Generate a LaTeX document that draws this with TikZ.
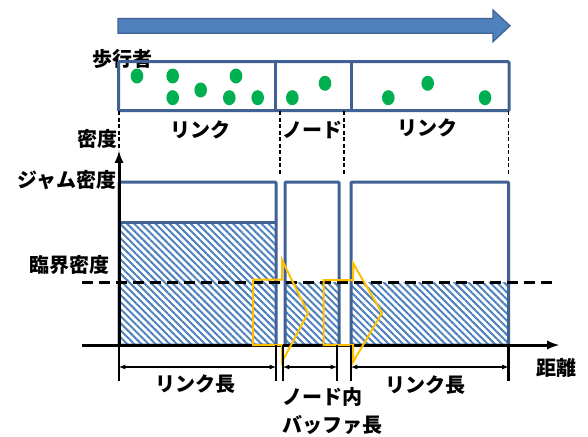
\documentclass[tikz,border=0pt]{standalone}
\usepackage{fontspec}
\setmainfont{Noto Sans CJK JP}
\usetikzlibrary{patterns.meta}
\definecolor{lineblue}{HTML}{3F6193}
\definecolor{fillblue}{HTML}{4F81BD}
\definecolor{walker}{HTML}{00B050}
\definecolor{flow}{HTML}{FFC000}
\tikzset{
  lbl/.style={font=\fontsize{20}{28}\selectfont\bfseries, inner sep=0pt},
  segbox/.style={draw=lineblue, line width=3pt, rounded corners=1pt},
  hatched/.style={pattern={Lines[angle=-45,distance=5pt,line width=2pt]}, pattern color=fillblue},
  person/.style={fill=walker, draw=none},
  flowarrow/.style={draw=flow, line width=2pt, line join=miter},
  dim/.style={latex-latex, line width=1.2pt},
  tick/.style={line width=2.5pt},
}
\begin{document}
\begin{tikzpicture}[x=1pt, y=-1pt]
\useasboundingbox (0,0) rectangle (588,436);
% direction of walking
\draw [fill=fillblue, draw=lineblue, line width=1.2pt, line join=miter]
  (118,18.5) -- (493,18.5) -- (493,10) -- (510,25.8) -- (493,41.7) -- (493,33.3) -- (118,33.3) -- cycle;
% pedestrians
\node [lbl] (walkers) at (122,59) {歩行者};
\draw [segbox] (118.5,61.7) rectangle (509,110.7);
\draw [segbox] (275,61.7) -- (275,110.7);
\draw [segbox] (351,61.7) -- (351,110.7);
\foreach \px/\py in {137/76, 172.7/76, 236/76, 200.7/90, 172.7/97.7, 229.3/97.7,
                     257.7/97.7, 292.3/97.7, 325/83.3, 388.3/97.7, 427.7/83.3, 485/97.7}
  \fill [person] (\px,\py) ellipse [x radius=6.3, y radius=7.5];
% section borders
\foreach \bx/\by in {119/150, 280/175, 344/175, 508.5/175}
  \draw [dashed, line width=1.2pt, dash pattern=on 4pt off 2.5pt] (\bx,111) -- (\bx,\by);
\node [lbl] (linkA) at (200,130) {リンク};
\node [lbl] (nodeL) at (312,130) {ノード};
\node [lbl] (linkB) at (427,128) {リンク};
% densities
\fill [hatched] (119,222) rectangle (276,345);
\fill [hatched] (285,282) rectangle (339,345);
\fill [hatched] (351,282) rectangle (508.5,345);
\draw [segbox] (119,182) rectangle (276,345);
\draw [segbox] (119,222) -- (276,222);
\draw [segbox] (285,182) rectangle (339,345);
\draw [segbox] (351,182) rectangle (508.5,345);
\draw [line width=3pt, dash pattern=on 11pt off 6pt] (82,282) -- (557,282);
% axes
\draw [-latex, line width=3pt] (119,345) -- (119,151);
\draw [-latex, line width=3pt] (82,345) -- (559,345);
\node [lbl, anchor=east] (densAxis) at (118,139) {密度};
\node [lbl, anchor=east] (jam) at (117,180) {ジャム密度};
\node [lbl, anchor=east] (crit) at (110,265) {臨界密度};
\node [lbl] (dist) at (556,368) {距離};
% flow into the node and out of it
\draw [flowarrow] (253,279.5) -- (282,279.5) -- (282,260) -- (308,313) -- (282,362) -- (282,345) -- (253,345) -- cycle;
\draw [flowarrow] (323.5,280) -- (353,280) -- (353,263) -- (382,313) -- (353,362) -- (353,345) -- (323.5,345) -- cycle;
% lengths
\foreach \tx in {119, 276, 283, 337, 351, 508.5}
  \draw [tick] (\tx,345) -- (\tx,381);
\draw [dim] (119,367) -- (276,367);
\draw [dim] (283,367) -- (337,367);
\draw [dim] (351,367) -- (508.5,367);
\node [lbl] (lenA) at (195,384) {リンク長};
\node [lbl] (lenB) at (425,385) {リンク長};
\node [lbl, anchor=west, align=left] (buf) at (282,411) {ノード内\\バッファ長};
\end{tikzpicture}
\end{document}
